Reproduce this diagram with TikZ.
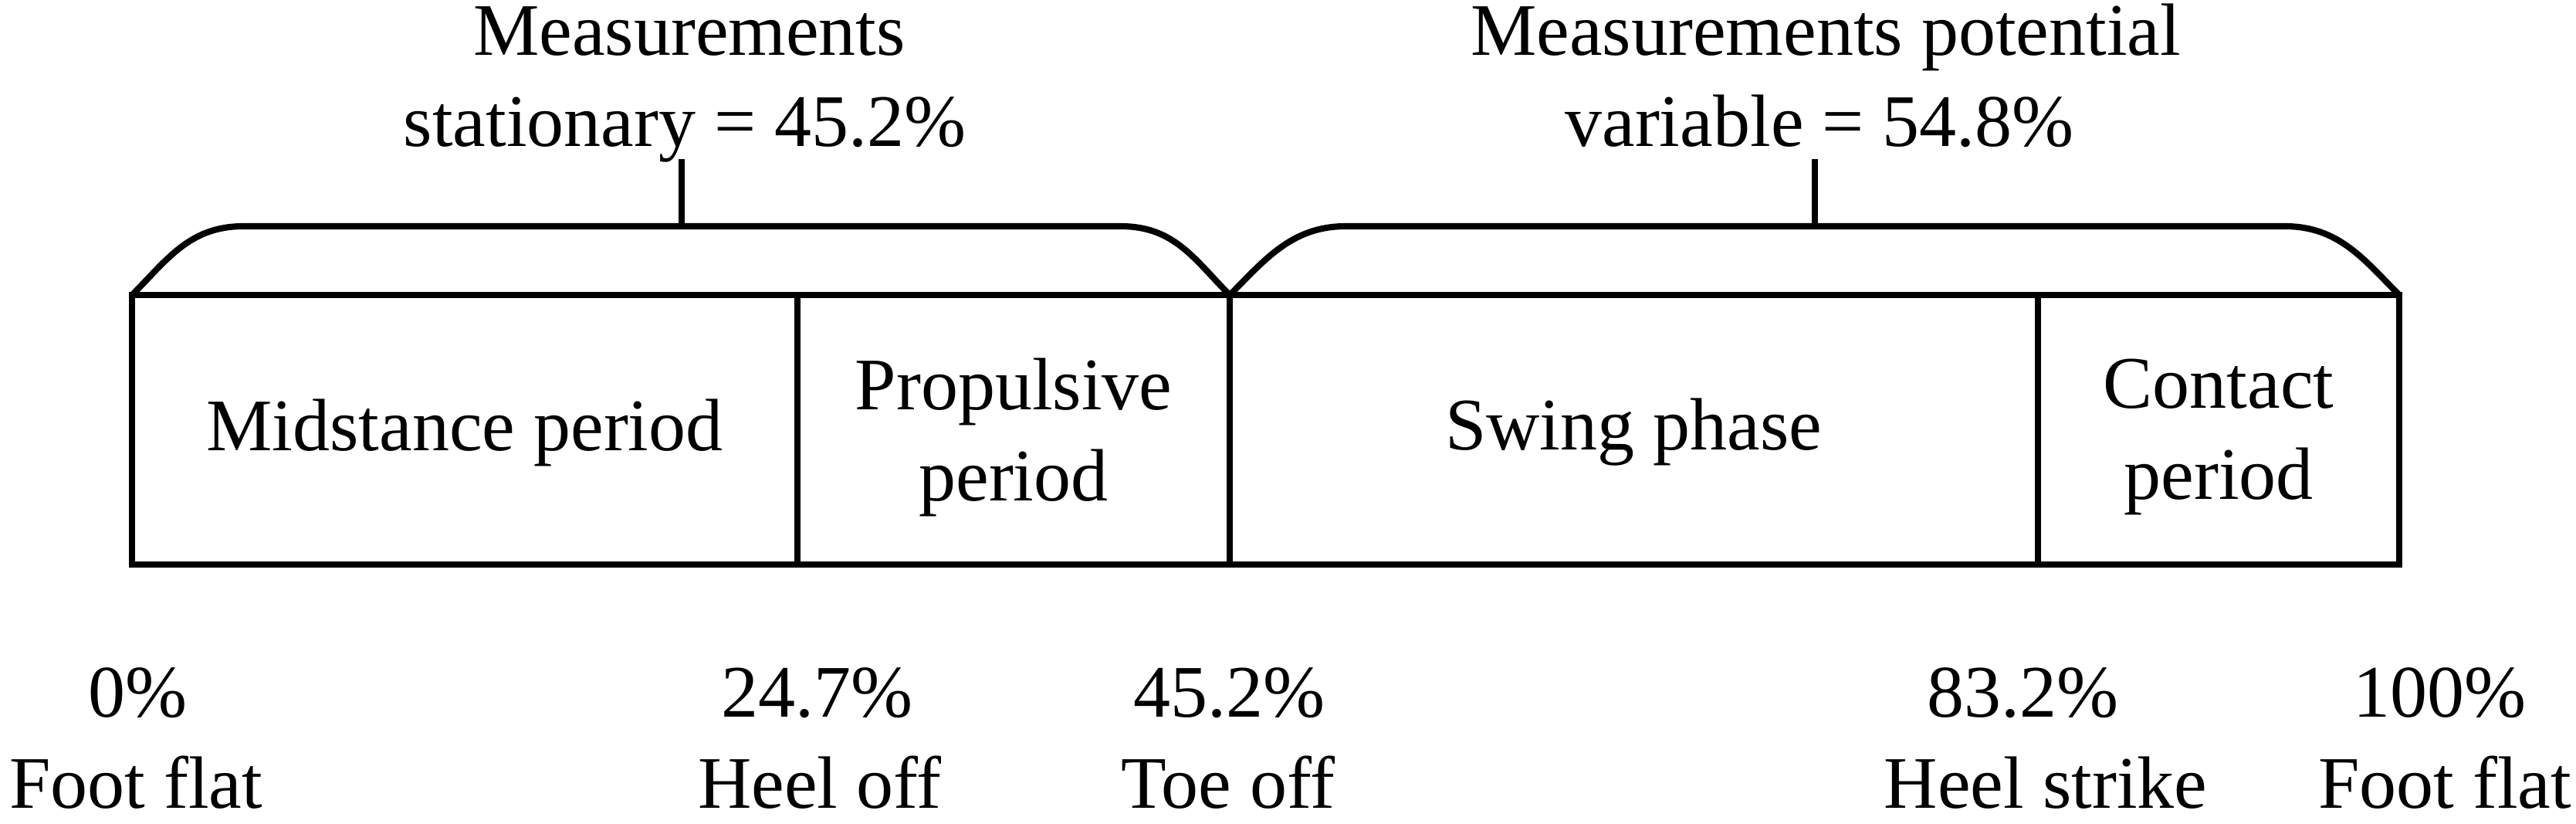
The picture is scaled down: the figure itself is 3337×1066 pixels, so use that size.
\documentclass[tikz,border=0pt]{standalone}
\usepackage{fontspec}
\setmainfont{Liberation Serif}
\begin{document}
\begin{tikzpicture}[x=0.01cm,y=-0.01cm,
  line/.style={line width=2.3pt,line join=miter},
  lbl/.style={font=\fontsize{27.3}{33.6}\selectfont,inner sep=0pt,align=center},
  lblb/.style={lbl,anchor=base}]
\useasboundingbox (0,0) rectangle (3337,1066);
% corners
\coordinate (TL) at (171,382);
\coordinate (TR) at (3108,382);
\coordinate (BL) at (171,731);
\coordinate (BR) at (3108,731);
\coordinate (d1t) at (1033,382); \coordinate (d1b) at (1033,731);
\coordinate (d2t) at (1593,382); \coordinate (d2b) at (1593,731);
\coordinate (d3t) at (2640,382); \coordinate (d3b) at (2640,731);
% box
\draw[line] (TL) rectangle (BR);
\draw[line] (d1t) -- (d1b);
\draw[line] (d2t) -- (d2b);
\draw[line] (d3t) -- (d3b);
% braces
\draw[line] (TL) .. controls (216,337) and (245,293) .. (315,293) -- (1452,293)
  .. controls (1522,293) and (1548,337) .. (d2t);
\draw[line] (d2t) .. controls (1638,337) and (1673,293) .. (1743,293) -- (2960,293)
  .. controls (3030,293) and (3063,337) .. (TR);
\coordinate (t1a) at (883,293); \coordinate (t1b) at (883,206);
\coordinate (t2a) at (2351,293); \coordinate (t2b) at (2351,206);
\draw[line] (t1a) -- (t1b);
\draw[line] (t2a) -- (t2b);
% top labels
\node[lblb] (m1a) at (893,71) {Measurements};
\node[lblb] (m1b) at (887,189) {stationary = 45.2\%};
\node[lblb] (m2a) at (2365,71) {Measurements potential};
\node[lblb] (m2b) at (2357,189) {variable = 54.8\%};
% box labels
\node[lbl] (p1) at (602,560) {Midstance period};
\node[lbl] (p2) at (1313,566) {Propulsive\\period};
\node[lbl] (p3) at (2116,560) {Swing phase};
\node[lbl] (p4) at (2874,566) {Contact\\period};
% bottom labels
\node[lblb] (a0) at (178,928) {0\%};
\node[lblb] (b0) at (176,1046) {Foot flat};
\node[lblb] (a1) at (1058,928) {24.7\%};
\node[lblb] (b1) at (1062,1046) {Heel off};
\node[lblb] (a2) at (1592,928) {45.2\%};
\node[lblb] (b2) at (1591,1046) {Toe off};
\node[lblb] (a3) at (2620,928) {83.2\%};
\node[lblb] (b3) at (2650,1046) {Heel strike};
\node[lblb] (a4) at (3160,928) {100\%};
\node[lblb] (b4) at (3167,1046) {Foot flat};
\end{tikzpicture}
\end{document}
